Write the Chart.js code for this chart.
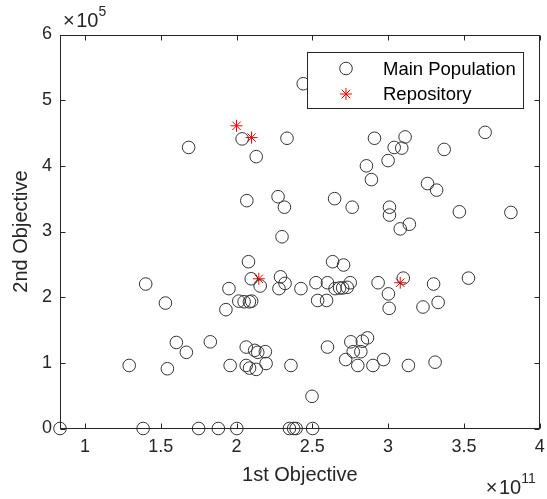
<!DOCTYPE html>
<html>
<head>
<meta charset="utf-8">
<script src="https://cdn.jsdelivr.net/npm/chart.js@4"></script>
<style>
  html, body { margin: 0; padding: 0; background: #ffffff; }
  #wrap { width: 547px; height: 499px; }
</style>
</head>
<body>
<div id="wrap"><canvas id="c" width="547" height="499"></canvas></div>
<script>
// Values in units of 1e11 (1st objective) and 1e5 (2nd objective)
const mainX = [
  2.44, 1.684, 2.037, 2.13, 2.333, 2.068, 2.274, 2.316, 2.30, 2.91,
  3.112, 3.04, 3.09, 3.37, 3.64, 2.857, 3.00, 2.89, 3.26, 3.32,
  2.647, 2.763, 3.009, 3.009, 3.47, 3.81, 3.14, 3.08, 1.401, 1.531,
  1.95, 1.93, 2.015, 2.05, 2.085, 2.10, 2.079, 2.097, 2.156, 2.29,
  2.32, 2.28, 2.425, 2.524, 2.60, 2.535, 2.594, 2.634, 2.706, 2.65,
  2.68, 2.70, 2.73, 2.75, 2.934, 3.002, 3.007, 3.10, 3.30, 3.23,
  3.33, 3.53, 1.292, 1.544, 1.603, 1.669, 1.827, 1.958, 2.064, 2.12,
  2.14, 2.19, 2.064, 2.086, 2.13, 2.195, 2.359, 2.60, 2.754, 2.83,
  2.864, 2.77, 2.82, 2.72, 2.80, 2.90, 2.97, 3.134, 3.31, 2.498,
  0.8355, 1.384, 1.75, 1.88, 2.002, 2.349, 2.377, 2.393, 2.502
];
const mainY = [
  5.25, 4.28, 4.41, 4.14, 4.42, 3.47, 3.53, 3.37, 2.92, 4.42,
  4.44, 4.28, 4.27, 4.25, 4.51, 4.00, 4.08, 3.79, 3.73, 3.63,
  3.50, 3.37, 3.37, 3.25, 3.30, 3.29, 3.11, 3.04, 2.20, 1.91,
  2.13, 1.81, 1.94, 1.93, 1.93, 1.94, 2.54, 2.28, 2.17, 2.31,
  2.21, 2.13, 2.13, 2.22, 2.22, 1.95, 1.95, 2.54, 2.49, 2.13,
  2.14, 2.14, 2.15, 2.22, 2.22, 2.05, 1.83, 2.29, 2.20, 1.85,
  1.92, 2.29, 0.96, 0.91, 1.31, 1.16, 1.32, 0.96, 1.24, 1.19,
  1.16, 1.17, 0.96, 0.92, 0.90, 0.99, 0.96, 1.24, 1.32, 1.33,
  1.38, 1.17, 1.17, 1.05, 0.96, 0.96, 1.05, 0.96, 1.01, 0.49,
  0, 0, 0, 0, 0, 0, 0, 0, 0
];
const repoX = [2.0, 2.099, 2.147, 3.08];
const repoY = [4.61, 4.43, 2.28, 2.22];

const xTicks = [1, 1.5, 2, 2.5, 3, 3.5, 4];
const yTicks = [0, 1, 2, 3, 4, 5, 6];
const xMin = 0.8355, xMax = 4, yMin = 0, yMax = 6;
const seriesNames = ['Main Population', 'Repository'];
const xTitle = '1st Objective', yTitle = '2nd Objective';
const xExp = '11', yExp = '5';

const AX = '#262626';
const FONT = "'Liberation Sans', Arial, sans-serif";

const toPts = (xs, ys) => xs.map((x, i) => ({ x: x, y: ys[i] }));

function drawExp(ctx, exp, x, y, alignRight) {
  // "×10" followed by superscript exponent
  ctx.font = '20px ' + FONT;
  const wx = ctx.measureText('\u00d7').width;
  const wt = ctx.measureText('10').width;
  ctx.font = '14px ' + FONT;
  const we = ctx.measureText(exp).width;
  const gap = 1.5;
  const total = wx + gap + wt + we;
  const x0 = alignRight ? x - total : x;
  ctx.textAlign = 'left';
  ctx.textBaseline = 'alphabetic';
  ctx.font = '20px ' + FONT;
  ctx.fillText('\u00d7', x0, y);
  ctx.fillText('10', x0 + wx + gap, y);
  ctx.font = '14px ' + FONT;
  ctx.fillText(exp, x0 + wx + gap + wt, y - 11);
}

const matlabAxes = {
  id: 'matlabAxes',
  afterDatasetsDraw(chart) {
    const { ctx, chartArea: a, scales } = chart;
    ctx.save();
    ctx.strokeStyle = AX;
    ctx.lineWidth = 1;
    const L = Math.round(a.left) + 0.5, R = Math.round(a.right) - 0.5;
    const T = Math.round(a.top) + 0.5, B = Math.round(a.bottom) - 0.5;
    ctx.strokeRect(L, T, R - L, B - T);
    const tl = 5;
    ctx.beginPath();
    scales.x.ticks.forEach(t => {
      const px = Math.round(scales.x.getPixelForValue(t.value)) + 0.5;
      ctx.moveTo(px, B); ctx.lineTo(px, B - tl);
      ctx.moveTo(px, T); ctx.lineTo(px, T + tl);
    });
    scales.y.ticks.forEach(t => {
      const py = Math.round(scales.y.getPixelForValue(t.value)) + 0.5;
      ctx.moveTo(L, py); ctx.lineTo(L + tl, py);
      ctx.moveTo(R, py); ctx.lineTo(R - tl, py);
    });
    ctx.stroke();

    ctx.fillStyle = AX;
    drawExp(ctx, yExp, a.left + 3, 27, false);
    drawExp(ctx, xExp, a.right - 4, 494, true);
    ctx.restore();
  },
  afterDraw(chart) {
    // legend box inside the axes (north-east)
    const { ctx } = chart;
    const bx = 307, by = 52, bw = 216, bh = 56;
    ctx.save();
    ctx.fillStyle = '#ffffff';
    ctx.fillRect(bx, by, bw, bh);
    ctx.strokeStyle = AX;
    ctx.lineWidth = 1;
    ctx.strokeRect(bx + 0.5, by + 0.5, bw, bh);
    const ds = chart.data.datasets;
    const rows = [68.5, 94];
    ds.forEach((d, i) => {
      ctx.save();
      ctx.strokeStyle = d.borderColor;
      ctx.fillStyle = 'rgba(0,0,0,0)';
      ctx.lineWidth = d.borderWidth;
      Chart.helpers.drawPoint(ctx, {
        pointStyle: d.pointStyle, radius: d.pointRadius, borderWidth: d.borderWidth, rotation: 0
      }, 346, rows[i]);
      ctx.restore();
      ctx.fillStyle = '#000000';
      ctx.font = '18.5px ' + FONT;
      ctx.textAlign = 'left';
      ctx.textBaseline = 'middle';
      ctx.fillText(seriesNames[i], 383, rows[i] + 1);
    });
    ctx.restore();
  }
};

new Chart(document.getElementById('c'), {
  type: 'scatter',
  data: {
    datasets: [
      {
        label: seriesNames[0],
        data: toPts(mainX, mainY),
        pointStyle: 'circle',
        pointRadius: 6.3,
        pointHoverRadius: 6.3,
        borderWidth: 1,
        borderColor: '#333333',
        backgroundColor: 'rgba(0,0,0,0)',
        clip: false
      },
      {
        label: seriesNames[1],
        data: toPts(repoX, repoY),
        pointStyle: 'star',
        pointRadius: 6,
        pointHoverRadius: 6,
        borderWidth: 1,
        borderColor: '#ff0000',
        backgroundColor: '#ff0000',
        clip: false
      }
    ]
  },
  options: {
    responsive: false,
    devicePixelRatio: 1,
    animation: false,
    events: [],
    layout: { padding: { top: 34.5, right: 5.5, left: 0, bottom: 0 } },
    plugins: { legend: { display: false }, tooltip: { enabled: false } },
    scales: {
      x: {
        type: 'linear',
        min: xMin, max: xMax,
        afterBuildTicks: s => { s.ticks = xTicks.map(v => ({ value: v })); },
        afterFit: s => { s.height = 70.5; s.paddingRight = 0; s.paddingLeft = 0; },
        grid: { display: false, drawTicks: false },
        border: { display: false },
        ticks: {
          color: AX, padding: 8,
          font: { family: FONT, size: 18 },
          maxRotation: 0, autoSkip: false,
          callback: v => String(v)
        },
        title: {
          display: true, text: xTitle, color: AX,
          font: { family: FONT, size: 20 },
          padding: { top: 0, bottom: 12 }
        }
      },
      y: {
        type: 'linear',
        min: yMin, max: yMax,
        afterBuildTicks: s => { s.ticks = yTicks.map(v => ({ value: v })); },
        afterFit: s => { s.width = 60; s.paddingTop = 0; s.paddingBottom = 0; },
        grid: { display: false, drawTicks: false },
        border: { display: false },
        ticks: {
          color: AX, padding: 8,
          font: { family: FONT, size: 18 },
          autoSkip: false,
          callback: v => String(v)
        },
        title: {
          display: true, text: yTitle, color: AX,
          font: { family: FONT, size: 20 },
          padding: { top: 9, bottom: 0 }
        }
      }
    }
  },
  plugins: [matlabAxes]
});
</script>
</body>
</html>
